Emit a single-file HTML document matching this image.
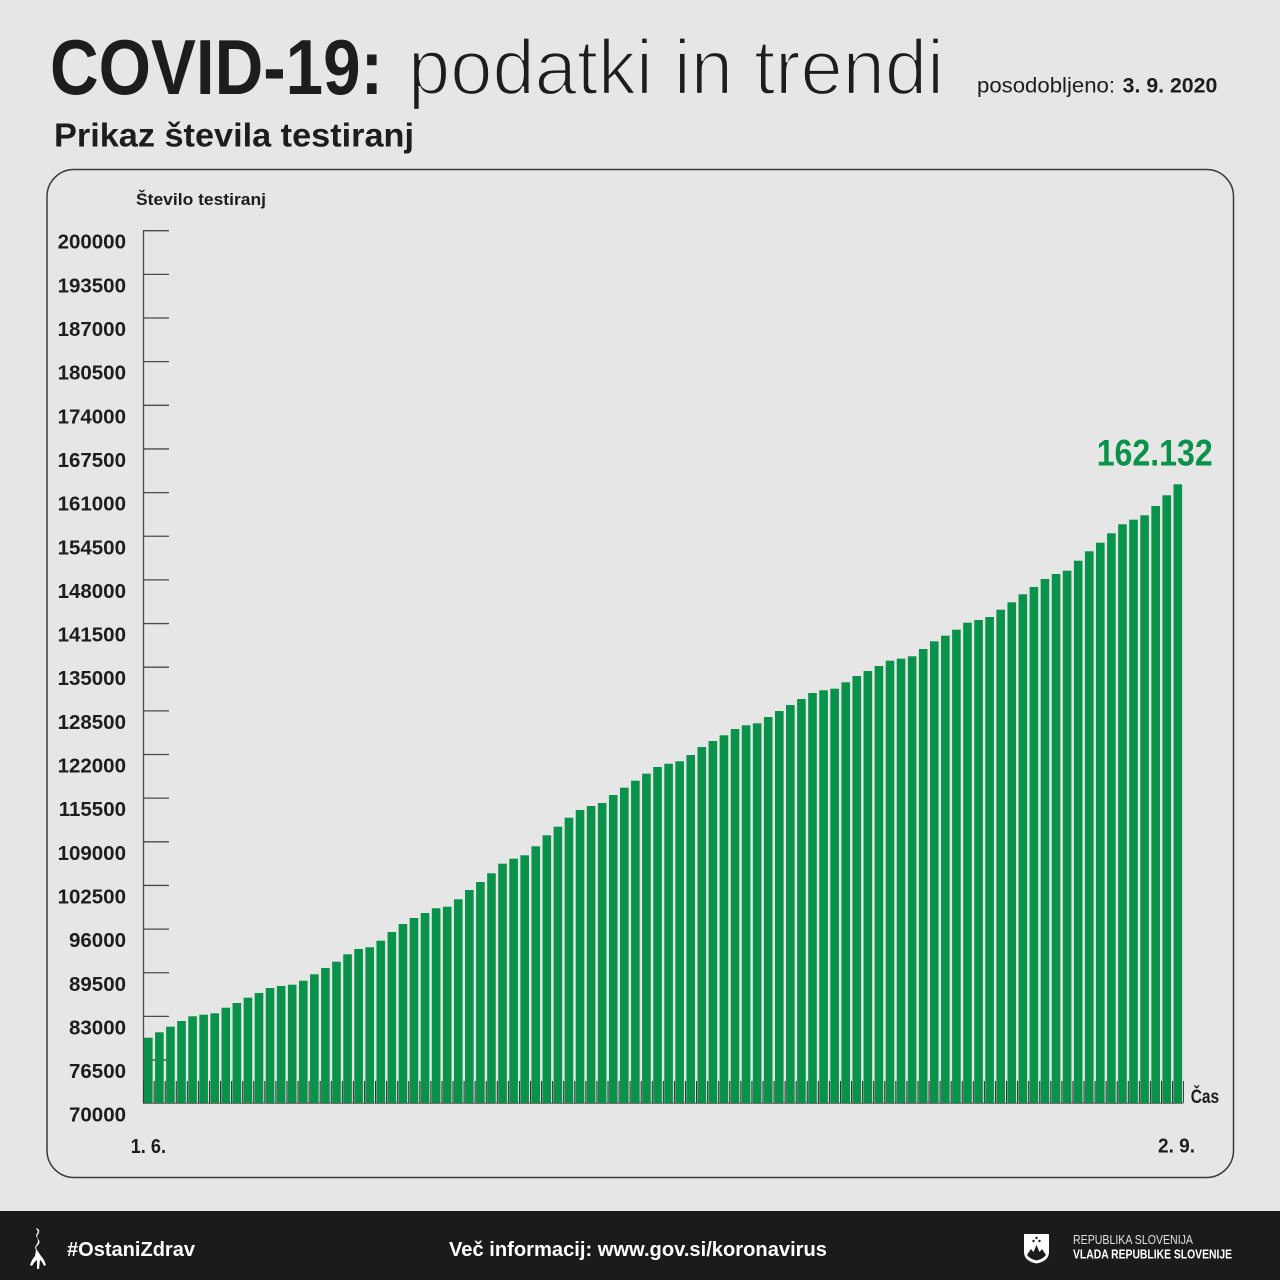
<!DOCTYPE html>
<html>
<head>
<meta charset="utf-8">
<style>
html,body{margin:0;padding:0;background:#e6e6e6;width:1280px;height:1280px;overflow:hidden}
svg{display:block}
text{font-family:"Liberation Sans",Arial,sans-serif}
</style>
</head>
<body>
<svg width="1280" height="1280" viewBox="0 0 1280 1280" xmlns="http://www.w3.org/2000/svg">
<defs>
<pattern id="tk" x="144" y="1081" width="11.07" height="22" patternUnits="userSpaceOnUse">
<rect x="9.6" y="0" width="1.1" height="22" fill="#2a2a2a"/>
</pattern>
</defs>
<rect x="0" y="0" width="1280" height="1280" fill="#e6e6e6"/>

<!-- Title -->
<text x="50" y="94" font-size="78" font-weight="bold" fill="#1d1d1b" textLength="333" lengthAdjust="spacingAndGlyphs">COVID-19:</text>
<text x="408" y="94" font-size="78" font-weight="normal" fill="#1d1d1b" stroke="#e6e6e6" stroke-width="2.2" textLength="536" lengthAdjust="spacingAndGlyphs">podatki in trendi</text>
<text x="977" y="92.5" font-size="21" fill="#1d1d1b" textLength="138" lengthAdjust="spacingAndGlyphs">posodobljeno:</text>
<text x="1122.7" y="92.5" font-size="21" font-weight="bold" fill="#1d1d1b" textLength="94.6" lengthAdjust="spacingAndGlyphs">3. 9. 2020</text>
<text x="54" y="146.5" font-size="33" font-weight="bold" fill="#1d1d1b" textLength="360" lengthAdjust="spacingAndGlyphs">Prikaz števila testiranj</text>

<!-- Card -->
<rect x="47" y="169.5" width="1186.5" height="1008" rx="27" ry="27" fill="#e6e6e6" stroke="#3a3a3a" stroke-width="1.5"/>

<text x="136" y="205" font-size="17" font-weight="bold" fill="#1d1d1b" textLength="130" lengthAdjust="spacingAndGlyphs">Število testiranj</text>

<!-- Y ticks -->
<g stroke="#4a4a4a" stroke-width="1.3">
<line x1="143" y1="230.7" x2="169" y2="230.7"/>
<line x1="143" y1="274.35" x2="169" y2="274.35"/>
<line x1="143" y1="318" x2="169" y2="318"/>
<line x1="143" y1="361.65" x2="169" y2="361.65"/>
<line x1="143" y1="405.3" x2="169" y2="405.3"/>
<line x1="143" y1="448.95" x2="169" y2="448.95"/>
<line x1="143" y1="492.6" x2="169" y2="492.6"/>
<line x1="143" y1="536.25" x2="169" y2="536.25"/>
<line x1="143" y1="579.9" x2="169" y2="579.9"/>
<line x1="143" y1="623.55" x2="169" y2="623.55"/>
<line x1="143" y1="667.2" x2="169" y2="667.2"/>
<line x1="143" y1="710.85" x2="169" y2="710.85"/>
<line x1="143" y1="754.5" x2="169" y2="754.5"/>
<line x1="143" y1="798.15" x2="169" y2="798.15"/>
<line x1="143" y1="841.8" x2="169" y2="841.8"/>
<line x1="143" y1="885.45" x2="169" y2="885.45"/>
<line x1="143" y1="929.1" x2="169" y2="929.1"/>
<line x1="143" y1="972.75" x2="169" y2="972.75"/>
<line x1="143" y1="1016.4" x2="169" y2="1016.4"/>
<line x1="143" y1="1060.05" x2="169" y2="1060.05"/>
<line x1="143.5" y1="230" x2="143.5" y2="1103.5"/>
</g>

<!-- Y labels -->
<g font-size="20.5" font-weight="bold" fill="#1d1d1b" text-anchor="end">
<text x="126" y="248.7">200000</text>
<text x="126" y="292.35">193500</text>
<text x="126" y="336">187000</text>
<text x="126" y="379.65">180500</text>
<text x="126" y="423.3">174000</text>
<text x="126" y="466.95">167500</text>
<text x="126" y="510.6">161000</text>
<text x="126" y="554.25">154500</text>
<text x="126" y="597.9">148000</text>
<text x="126" y="641.55">141500</text>
<text x="126" y="685.2">135000</text>
<text x="126" y="728.85">128500</text>
<text x="126" y="772.5">122000</text>
<text x="126" y="816.15">115500</text>
<text x="126" y="859.8">109000</text>
<text x="126" y="903.45">102500</text>
<text x="126" y="947.1">96000</text>
<text x="126" y="990.75">89500</text>
<text x="126" y="1034.4">83000</text>
<text x="126" y="1078.05">76500</text>
<text x="126" y="1121.7">70000</text>
</g>

<!-- Bars -->
<g fill="#08924a">
<rect x="144" y="1037.7" width="8.6" height="65.3"/>
<rect x="155.07" y="1032.3" width="8.6" height="70.7"/>
<rect x="166.14" y="1026.7" width="8.6" height="76.3"/>
<rect x="177.21" y="1021" width="8.6" height="82"/>
<rect x="188.28" y="1016.3" width="8.6" height="86.7"/>
<rect x="199.35" y="1014.7" width="8.6" height="88.3"/>
<rect x="210.42" y="1013.3" width="8.6" height="89.7"/>
<rect x="221.49" y="1007.7" width="8.6" height="95.3"/>
<rect x="232.56" y="1003" width="8.6" height="100"/>
<rect x="243.63" y="997.7" width="8.6" height="105.3"/>
<rect x="254.7" y="993" width="8.6" height="110"/>
<rect x="265.77" y="988" width="8.6" height="115"/>
<rect x="276.84" y="986" width="8.6" height="117"/>
<rect x="287.91" y="984.7" width="8.6" height="118.3"/>
<rect x="298.98" y="980.7" width="8.6" height="122.3"/>
<rect x="310.05" y="974.3" width="8.6" height="128.7"/>
<rect x="321.12" y="968" width="8.6" height="135"/>
<rect x="332.19" y="961.7" width="8.6" height="141.3"/>
<rect x="343.26" y="954.3" width="8.6" height="148.7"/>
<rect x="354.33" y="949" width="8.6" height="154"/>
<rect x="365.4" y="947.3" width="8.6" height="155.7"/>
<rect x="376.47" y="940.7" width="8.6" height="162.3"/>
<rect x="387.54" y="932" width="8.6" height="171"/>
<rect x="398.61" y="924" width="8.6" height="179"/>
<rect x="409.68" y="918" width="8.6" height="185"/>
<rect x="420.75" y="913" width="8.6" height="190"/>
<rect x="431.82" y="908.3" width="8.6" height="194.7"/>
<rect x="442.89" y="906.7" width="8.6" height="196.3"/>
<rect x="453.96" y="899.3" width="8.6" height="203.7"/>
<rect x="465.03" y="890" width="8.6" height="213"/>
<rect x="476.1" y="882" width="8.6" height="221"/>
<rect x="487.17" y="873.3" width="8.6" height="229.7"/>
<rect x="498.24" y="863.7" width="8.6" height="239.3"/>
<rect x="509.31" y="858.7" width="8.6" height="244.3"/>
<rect x="520.38" y="855.3" width="8.6" height="247.7"/>
<rect x="531.45" y="846.3" width="8.6" height="256.7"/>
<rect x="542.52" y="835.3" width="8.6" height="267.7"/>
<rect x="553.59" y="826.7" width="8.6" height="276.3"/>
<rect x="564.66" y="817.7" width="8.6" height="285.3"/>
<rect x="575.73" y="810" width="8.6" height="293"/>
<rect x="586.8" y="806" width="8.6" height="297"/>
<rect x="597.87" y="803" width="8.6" height="300"/>
<rect x="608.94" y="795" width="8.6" height="308"/>
<rect x="620.01" y="787.7" width="8.6" height="315.3"/>
<rect x="631.08" y="780.7" width="8.6" height="322.3"/>
<rect x="642.15" y="773.7" width="8.6" height="329.3"/>
<rect x="653.22" y="767" width="8.6" height="336"/>
<rect x="664.29" y="763.7" width="8.6" height="339.3"/>
<rect x="675.36" y="761.3" width="8.6" height="341.7"/>
<rect x="686.43" y="755" width="8.6" height="348"/>
<rect x="697.5" y="747" width="8.6" height="356"/>
<rect x="708.57" y="741" width="8.6" height="362"/>
<rect x="719.64" y="735.3" width="8.6" height="367.7"/>
<rect x="730.71" y="729" width="8.6" height="374"/>
<rect x="741.78" y="725.3" width="8.6" height="377.7"/>
<rect x="752.85" y="723.3" width="8.6" height="379.7"/>
<rect x="763.92" y="717" width="8.6" height="386"/>
<rect x="774.99" y="711" width="8.6" height="392"/>
<rect x="786.06" y="705" width="8.6" height="398"/>
<rect x="797.13" y="699" width="8.6" height="404"/>
<rect x="808.2" y="693" width="8.6" height="410"/>
<rect x="819.27" y="690.3" width="8.6" height="412.7"/>
<rect x="830.34" y="688.7" width="8.6" height="414.3"/>
<rect x="841.41" y="682.3" width="8.6" height="420.7"/>
<rect x="852.48" y="676" width="8.6" height="427"/>
<rect x="863.55" y="671" width="8.6" height="432"/>
<rect x="874.62" y="666" width="8.6" height="437"/>
<rect x="885.69" y="660.7" width="8.6" height="442.3"/>
<rect x="896.76" y="658.7" width="8.6" height="444.3"/>
<rect x="907.83" y="656.3" width="8.6" height="446.7"/>
<rect x="918.9" y="649" width="8.6" height="454"/>
<rect x="929.97" y="641.3" width="8.6" height="461.7"/>
<rect x="941.04" y="635.7" width="8.6" height="467.3"/>
<rect x="952.11" y="629.7" width="8.6" height="473.3"/>
<rect x="963.18" y="622.7" width="8.6" height="480.3"/>
<rect x="974.25" y="620" width="8.6" height="483"/>
<rect x="985.32" y="617" width="8.6" height="486"/>
<rect x="996.39" y="609.7" width="8.6" height="493.3"/>
<rect x="1007.46" y="602.3" width="8.6" height="500.7"/>
<rect x="1018.53" y="594.3" width="8.6" height="508.7"/>
<rect x="1029.6" y="587" width="8.6" height="516"/>
<rect x="1040.67" y="579" width="8.6" height="524"/>
<rect x="1051.74" y="574" width="8.6" height="529"/>
<rect x="1062.81" y="570.7" width="8.6" height="532.3"/>
<rect x="1073.88" y="560.7" width="8.6" height="542.3"/>
<rect x="1084.95" y="551.3" width="8.6" height="551.7"/>
<rect x="1096.02" y="542.7" width="8.6" height="560.3"/>
<rect x="1107.09" y="533.3" width="8.6" height="569.7"/>
<rect x="1118.16" y="524.3" width="8.6" height="578.7"/>
<rect x="1129.23" y="519.7" width="8.6" height="583.3"/>
<rect x="1140.3" y="515.3" width="8.6" height="587.7"/>
<rect x="1151.37" y="506" width="8.6" height="597"/>
<rect x="1162.44" y="495.3" width="8.6" height="607.7"/>
<rect x="1173.51" y="484.3" width="8.6" height="618.7"/>
</g>

<!-- bottom ticks -->
<rect x="143" y="1081" width="1041" height="22" fill="url(#tk)"/>
<line x1="143" y1="1103.3" x2="1183" y2="1103.3" stroke="#3a5a45" stroke-width="1"/>

<text x="1096.7" y="465.7" font-size="37" font-weight="bold" fill="#08924a" textLength="116" lengthAdjust="spacingAndGlyphs">162.132</text>

<text x="1190.7" y="1103" font-size="19" font-weight="bold" fill="#1d1d1b" textLength="28.5" lengthAdjust="spacingAndGlyphs">Čas</text>
<text x="130.7" y="1153" font-size="20" font-weight="bold" fill="#1d1d1b" textLength="35.3" lengthAdjust="spacingAndGlyphs">1. 6.</text>
<text x="1158" y="1152.7" font-size="20" font-weight="bold" fill="#1d1d1b" textLength="37" lengthAdjust="spacingAndGlyphs">2. 9.</text>

<!-- Footer -->
<rect x="0" y="1211" width="1280" height="69" fill="#1b1b1b"/>
<g fill="#ffffff">
<path d="M36,1228 q4,1 3,5 q-3,3 -1,6 q3,3 0,6 q-3,2 -1,5 l4,6 q3,3 5,9 l-2,1 q-2,-5 -4,-6 l-1,9 l-2,0 l0,-9 q-3,2 -5,6 l-2,-1 q2,-6 5,-9 l1,-6 q-2,-3 1,-6 q2,-3 0,-6 q-2,-3 1,-6 z"/>
</g>
<text x="67" y="1256" font-size="20" font-weight="bold" fill="#ffffff" textLength="128" lengthAdjust="spacingAndGlyphs">#OstaniZdrav</text>
<text x="449" y="1256" font-size="20" font-weight="bold" fill="#ffffff" textLength="378" lengthAdjust="spacingAndGlyphs">Več informacij: www.gov.si/koronavirus</text>

<path d="M1024,1234 L1049,1234 L1049,1252 Q1049,1261 1036.5,1263.5 Q1024,1261 1024,1252 Z" fill="#ffffff"/>
<path d="M1027,1255 L1031,1249 L1033.5,1252 L1036.5,1245 L1039.5,1252 L1042,1249 L1046,1255 Q1043,1259 1036.5,1260.5 Q1030,1259 1027,1255 Z" fill="#1b1b1b"/>
<circle cx="1036.5" cy="1238" r="1.2" fill="#1b1b1b"/>
<circle cx="1033.5" cy="1241" r="1.2" fill="#1b1b1b"/>
<circle cx="1039.5" cy="1241" r="1.2" fill="#1b1b1b"/>

<text x="1073" y="1244" font-size="12.5" fill="#e0e0e0" textLength="120" lengthAdjust="spacingAndGlyphs">REPUBLIKA SLOVENIJA</text>
<text x="1073" y="1258.7" font-size="12.5" font-weight="bold" fill="#ffffff" textLength="159" lengthAdjust="spacingAndGlyphs">VLADA REPUBLIKE SLOVENIJE</text>
</svg>
</body>
</html>
